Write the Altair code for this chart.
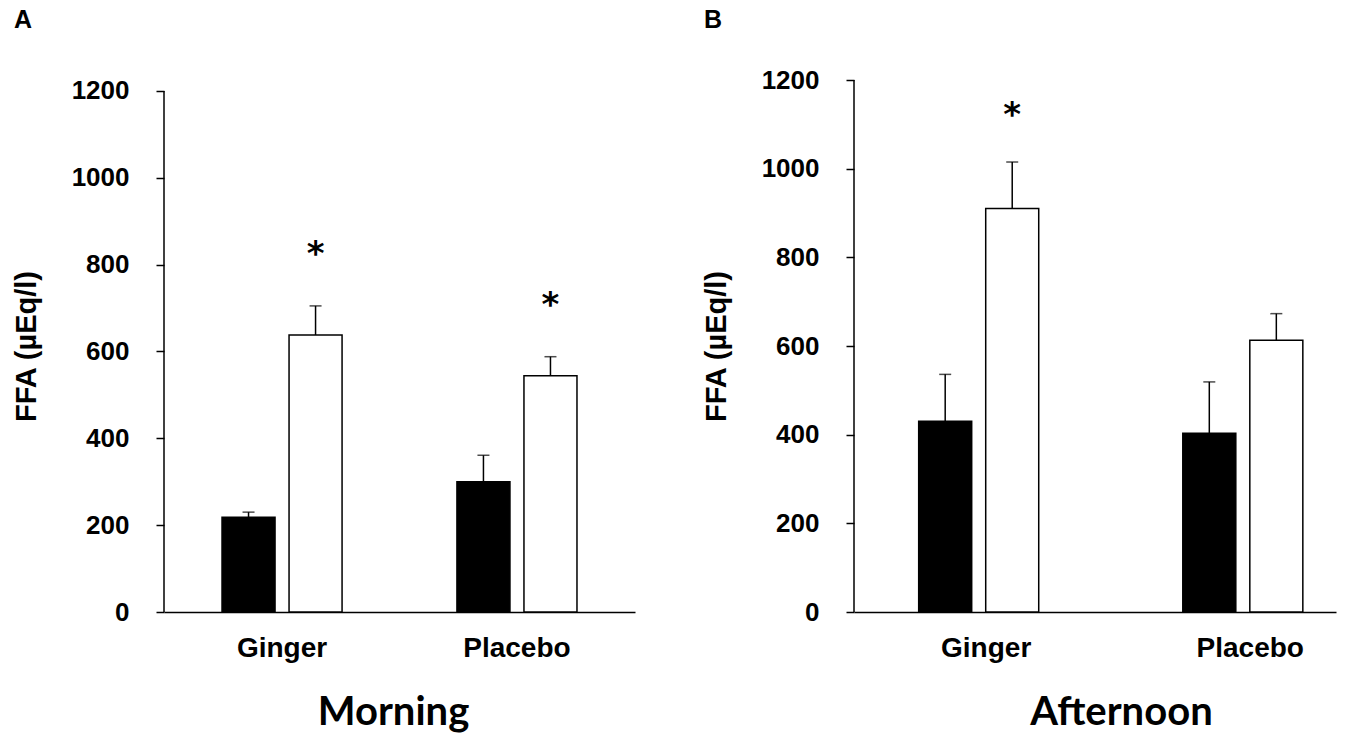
import altair as alt
import pandas as pd

# ---- data ----
groups = ["Ginger", "Placebo"]
phases = ["Pre", "Post"]                     # black bar, white bar
row_group = ["Ginger", "Ginger", "Placebo", "Placebo"]
row_phase = ["Pre", "Post", "Pre", "Post"]

morning_mean = [218, 638, 300, 544]
morning_sem = [12, 67, 61, 44]
morning_star = [None, 843, None, 726]

afternoon_mean = [430, 910, 403, 613]
afternoon_sem = [106, 105, 116, 60]
afternoon_star = [None, 1140, None, None]

y_ticks = [0, 200, 400, 600, 800, 1000, 1200]

LAB_FONT = "Liberation Sans"
TITLE_FONT = "Lato"


def make_df(mean, sem, star):
    return pd.DataFrame({
        "group": row_group,
        "phase": row_phase,
        "mean": mean,
        "upper": [m + s for m, s in zip(mean, sem)],
        "star": star,
    })


def panel(df, width, height, ydom, pad_outer, align, off_pad, title, title_x, letter):
    xscale = alt.Scale(domain=groups, paddingInner=0.489, paddingOuter=pad_outer, align=align)
    xaxis = alt.Axis(labelAngle=0, labelFont=LAB_FONT, labelFontSize=28, labelFontWeight="bold",
                     labelColor="black", ticks=False, domainColor="black", domainWidth=1.5,
                     labelPadding=22, title=title, titleFont=TITLE_FONT, titleFontSize=40,
                     titleFontWeight="bold", titleColor="black", titlePadding=30,
                     titleX=title_x, titleAlign="center")
    yscale = alt.Scale(domain=ydom, nice=False, zero=True)
    yaxis = alt.Axis(values=y_ticks, format="d", labelFont=LAB_FONT, labelFontSize=26,
                     labelFontWeight="bold", labelColor="black", tickSize=8, tickColor="black",
                     tickWidth=1.5, labelPadding=27, domain=False, grid=False,
                     title="FFA (µEq/l)", titleFont=LAB_FONT, titleFontSize=29,
                     titleFontWeight="bold", titleColor="black", titlePadding=30)
    xoff = alt.XOffset("phase:N", scale=alt.Scale(domain=phases, paddingInner=off_pad, paddingOuter=0))

    base = alt.Chart(df).encode(x=alt.X("group:N", scale=xscale, axis=xaxis), xOffset=xoff)

    bars = base.mark_bar(stroke="black", strokeWidth=1.5).encode(
        y=alt.Y("mean:Q", scale=yscale, axis=yaxis),
        fill=alt.Fill("phase:N", scale=alt.Scale(domain=phases, range=["black", "white"]), legend=None),
    )
    err = base.mark_rule(color="black", strokeWidth=1.5).encode(
        y=alt.Y("mean:Q", axis=yaxis), y2="upper:Q")
    cap = base.mark_tick(color="black", thickness=1.5, size=12).encode(
        y=alt.Y("upper:Q", axis=yaxis))
    stars = base.transform_filter("isValid(datum.star)").mark_text(
        text="*", font="DejaVu Sans", fontWeight="bold", fontSize=34, color="black",
        baseline="middle", dy=9).encode(y=alt.Y("star:Q", axis=yaxis))

    yline = alt.Chart(pd.DataFrame({"lo": [0], "hi": [1200]})).mark_rule(
        color="black", strokeWidth=1.5).encode(
        x=alt.value(0), y=alt.Y("lo:Q", axis=yaxis), y2="hi:Q")

    lett = alt.Chart(pd.DataFrame({"t": [letter]})).mark_text(
        align="left", baseline="top", font=LAB_FONT, fontSize=25, fontWeight="bold",
        color="black").encode(text="t:N", x=alt.value(-150), y=alt.value(-72))

    return alt.layer(bars, err, cap, stars, yline, lett).properties(width=width, height=height)


A = panel(make_df(morning_mean, morning_sem, morning_star), 471, 532, [0, 1225.3],
          0.247, 0.5, 0.209, "Morning", 229, "A")
B = panel(make_df(afternoon_mean, afternoon_sem, afternoon_star), 482, 532, [0, 1200],
          0.157, 0.78, 0.19, "Afternoon", 267, "B")

chart = alt.hconcat(A, B, spacing=67).properties(
    padding={"left": 12, "top": 8, "right": 5, "bottom": 5}
).configure_view(stroke=None)

chart.save("out.html", embed_options={"renderer": "svg", "actions": False})
